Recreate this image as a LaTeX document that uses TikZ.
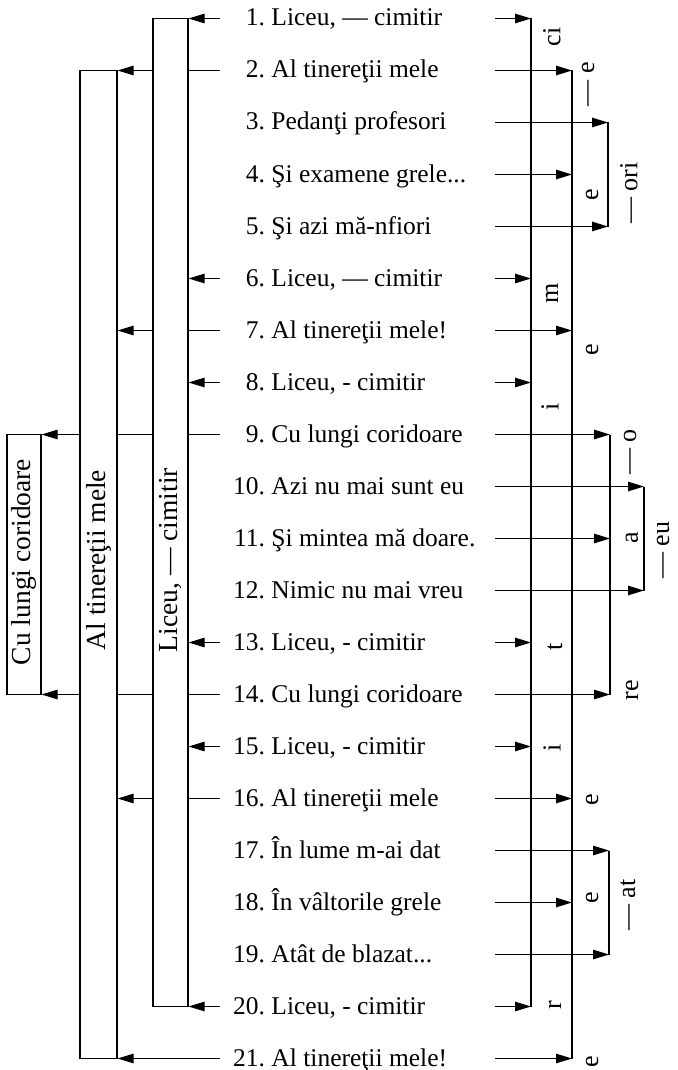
\documentclass[tikz,border=0pt]{standalone}
\usepackage{fontspec}
\setmainfont{Liberation Serif}
\usetikzlibrary{arrows.meta,fit}
\newcommand\nm[1]{\makebox[1.25em][r]{#1}}
\begin{document}
\begin{tikzpicture}[x=1pt,y=-1pt,
  conn/.style={line width=1.1pt},
  arr/.style={line width=1.1pt,-{Triangle[length=16pt,width=9.5pt]}},
  box/.style={draw,line width=1.1pt,inner sep=0pt},
  rowtext/.style={anchor=base west,inner sep=0pt,font=\fontsize{25.5}{30}\selectfont},
  boxlabel/.style={rotate=90,inner sep=0pt,font=\fontsize{27.5}{30}\selectfont},
  letter/.style={rotate=90,inner sep=0pt,font=\fontsize{26}{30}\selectfont}]
\useasboundingbox (0,0) rectangle (677,1070);
% row coordinates
\foreach \i in {1,...,21}{
  \coordinate (L\i) at (220,{18.5+52*(\i-1)});
  \coordinate (R\i) at (495,{18.5+52*(\i-1)});
}
% texts
\node[rowtext] (t1)  at (233,{18.5+52*0+7.5})  {\nm{1.} Liceu, — cimitir};
\node[rowtext] (t2)  at (233,{18.5+52*1+7.5})  {\nm{2.} Al tinereţii mele};
\node[rowtext] (t3)  at (233,{18.5+52*2+7.5})  {\nm{3.} Pedanţi profesori};
\node[rowtext] (t4)  at (233,{18.5+52*3+7.5})  {\nm{4.} Şi examene grele...};
\node[rowtext] (t5)  at (233,{18.5+52*4+7.5})  {\nm{5.} Şi azi mă-nfiori};
\node[rowtext] (t6)  at (233,{18.5+52*5+7.5})  {\nm{6.} Liceu, — cimitir};
\node[rowtext] (t7)  at (233,{18.5+52*6+7.5})  {\nm{7.} Al tinereţii mele!};
\node[rowtext] (t8)  at (233,{18.5+52*7+7.5})  {\nm{8.} Liceu, - cimitir};
\node[rowtext] (t9)  at (233,{18.5+52*8+7.5})  {\nm{9.} Cu lungi coridoare};
\node[rowtext] (t10) at (233,{18.5+52*9+7.5})  {\nm{10.} Azi nu mai sunt eu};
\node[rowtext] (t11) at (233,{18.5+52*10+7.5}) {\nm{11.} Şi mintea mă doare.};
\node[rowtext] (t12) at (233,{18.5+52*11+7.5}) {\nm{12.} Nimic nu mai vreu};
\node[rowtext] (t13) at (233,{18.5+52*12+7.5}) {\nm{13.} Liceu, - cimitir};
\node[rowtext] (t14) at (233,{18.5+52*13+7.5}) {\nm{14.} Cu lungi coridoare};
\node[rowtext] (t15) at (233,{18.5+52*14+7.5}) {\nm{15.} Liceu, - cimitir};
\node[rowtext] (t16) at (233,{18.5+52*15+7.5}) {\nm{16.} Al tinereţii mele};
\node[rowtext] (t17) at (233,{18.5+52*16+7.5}) {\nm{17.} În lume m-ai dat};
\node[rowtext] (t18) at (233,{18.5+52*17+7.5}) {\nm{18.} În vâltorile grele};
\node[rowtext] (t19) at (233,{18.5+52*18+7.5}) {\nm{19.} Atât de blazat...};
\node[rowtext] (t20) at (233,{18.5+52*19+7.5}) {\nm{20.} Liceu, - cimitir};
\node[rowtext] (t21) at (233,{18.5+52*20+7.5}) {\nm{21.} Al tinereţii mele!};
% left boxes
\node[box,fit={(153,0|-L1) (188,0|-L20)}] (boxC) {};
\node[box,fit={(80,0|-L2) (117,0|-L21)}] (boxB) {};
\node[box,fit={(7,0|-L9) (41,0|-L14)}] (boxA) {};
\node[boxlabel] (labA) at (24,562) {Cu lungi coridoare};
\node[boxlabel] (labB) at (99,560) {Al tinereţii mele};
\node[boxlabel] (labC) at (171,560) {Liceu, — cimitir};
% left connectors
\foreach \i in {1,6,8,13,15,20}{ \draw[arr] (L\i) -- (L\i -| boxC.east); }
\foreach \i in {2,7,16}{
  \draw[conn] (L\i) -- (L\i -| boxC.east);
  \draw[arr] (L\i -| boxC.west) -- (L\i -| boxB.east);
}
\foreach \i in {9,14}{
  \draw[conn] (L\i) -- (L\i -| boxC.east);
  \draw[conn] (L\i -| boxC.west) -- (L\i -| boxB.east);
  \draw[arr] (L\i -| boxB.west) -- (L\i -| boxA.east);
}
\draw[arr] (L21) -- (L21 -| boxB.east);
% right verticals
\coordinate (V1) at (531,0);
\coordinate (V2) at (572,0);
\coordinate (Bori) at (608,0);
\coordinate (Bo) at (610,0);
\coordinate (Beu) at (644,0);
\coordinate (Bat) at (609,0);
\draw[conn] (R1 -| V1) -- (R20 -| V1);
\draw[conn] (R2 -| V2) -- (R21 -| V2);
\draw[conn] (R3 -| Bori) -- (R5 -| Bori);
\draw[conn] (R9 -| Bo) -- (R14 -| Bo);
\draw[conn] (R10 -| Beu) -- (R12 -| Beu);
\draw[conn] (R17 -| Bat) -- (R19 -| Bat);
% right connectors
\foreach \i/\v in {1/V1,2/V2,3/Bori,4/V2,5/Bori,6/V1,7/V2,8/V1,9/Bo,10/Beu,11/Bo,12/Beu,13/V1,14/Bo,15/V1,16/V2,17/Bat,18/V2,19/Bat,20/V1,21/V2}{
  \draw[arr] (R\i) -- (R\i -| \v);
}
% right letters
\node[letter] (l1) at (552,37) {ci};
\node[letter] (l2) at (588,84) {— e};
\node[letter] (l3) at (629,193) {— ori};
\node[letter] (l4) at (592,195) {e};
\node[letter] (l5) at (552,293) {m};
\node[letter] (l6) at (592,350) {e};
\node[letter] (l7) at (550,407) {i};
\node[letter] (l8) at (630,452) {— o};
\node[letter] (l9) at (632,538) {a};
\node[letter] (l10) at (663,550) {— eu};
\node[letter] (l11) at (555,647) {t};
\node[letter] (l12) at (632,690) {re};
\node[letter] (l13) at (552,748) {i};
\node[letter] (l14) at (592,800) {e};
\node[letter] (l15) at (592,898) {e};
\node[letter] (l16) at (628,905) {— at};
\node[letter] (l17) at (555,1005) {r};
\node[letter] (l18) at (592,1062) {e};
\end{tikzpicture}
\end{document}
